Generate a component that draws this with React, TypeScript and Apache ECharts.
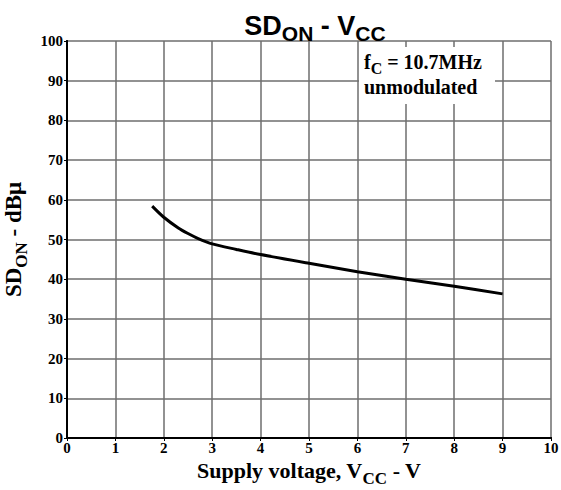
import React, { useEffect, useRef } from "react";
import * as echarts from "echarts";

const voltage = [1.76, 2.0, 2.3, 2.5, 2.7, 3.0, 3.5, 4.0, 5.0, 6.0, 7.0, 8.0, 9.0];
const sdOn = [58.4, 55.6, 52.9, 51.5, 50.3, 48.9, 47.5, 46.2, 44.0, 41.9, 40.0, 38.2, 36.3];

const xTicks = [0, 1, 2, 3, 4, 5, 6, 7, 8, 9, 10];
const yTicks = [0, 10, 20, 30, 40, 50, 60, 70, 80, 90, 100];

export default function App() {
  const ref = useRef<HTMLDivElement>(null);
  useEffect(() => {
    if (!ref.current) return;
    const chart = echarts.init(ref.current, null, { renderer: "svg" });
    const serif = "'Liberation Serif', 'Times New Roman', serif";
    const sans = "'Liberation Sans', Arial, sans-serif";
    const border = { show: true, lineStyle: { color: "#000", width: 2 } };
    chart.setOption({
      animation: false,
      backgroundColor: "#ffffff",
      title: {
        text: "{a|SD}{b|ON}{a| - V}{b|CC}",
        left: 310,
        textAlign: "center",
        top: 0,
        textStyle: {
          rich: {
            a: { fontFamily: sans, fontSize: 27, fontWeight: "bold", color: "#000", lineHeight: 34, verticalAlign: "bottom" },
            b: { fontFamily: sans, fontSize: 21, fontWeight: "bold", color: "#000", lineHeight: 34, verticalAlign: "bottom", padding: [0, 0, -5, 0] },
          },
        },
      },
      grid: { left: 67, right: 10, top: 41, bottom: 52, containLabel: false, outerBoundsMode: "none" },
      xAxis: [
        {
          type: "value",
          min: 0,
          max: 10,
          interval: 1,
          name: "{a|Supply voltage, V}{b|CC}{a| - V}",
          nameLocation: "middle",
          nameGap: 17,
          nameTextStyle: {
            rich: {
              a: { fontFamily: serif, fontSize: 22, fontWeight: "bold", color: "#000", lineHeight: 26, verticalAlign: "bottom" },
              b: { fontFamily: serif, fontSize: 17, fontWeight: "bold", color: "#000", lineHeight: 26, verticalAlign: "bottom", padding: [0, 0, -5, 0] },
            },
          },
          axisLine: border,
          axisTick: { show: true, inside: false, length: 3, lineStyle: { color: "#000", width: 1 } },
          axisLabel: {
            fontFamily: serif,
            fontWeight: "bold",
            fontSize: 15,
            color: "#000",
            margin: 2,
            formatter: (v: number) => (xTicks.includes(v) ? String(v) : ""),
          },
          splitLine: { show: true, lineStyle: { color: "#6e6e6e", width: 1.5 } },
        },
        {
          type: "value",
          position: "top",
          min: 0,
          max: 10,
          interval: 1,
          axisLine: border,
          axisTick: { show: false },
          axisLabel: { show: false },
          splitLine: { show: false },
        },
      ],
      yAxis: [
        {
          type: "value",
          min: 0,
          max: 100,
          interval: 10,
          name: "{a|SD}{b|ON}{a| - dBμ}",
          nameLocation: "middle",
          nameGap: 37,
          nameRotate: 90,
          nameTextStyle: {
            rich: {
              a: { fontFamily: serif, fontSize: 23, fontWeight: "bold", color: "#000", lineHeight: 26, verticalAlign: "bottom" },
              b: { fontFamily: serif, fontSize: 17, fontWeight: "bold", color: "#000", lineHeight: 26, verticalAlign: "bottom", padding: [0, 0, -5, 0] },
            },
          },
          axisLine: border,
          axisTick: { show: true, inside: false, length: 3, lineStyle: { color: "#000", width: 1 } },
          axisLabel: {
            fontFamily: serif,
            fontWeight: "bold",
            fontSize: 15,
            color: "#000",
            margin: 4,
            formatter: (v: number) => (yTicks.includes(v) ? String(v) : ""),
          },
          splitLine: { show: true, lineStyle: { color: "#6e6e6e", width: 1.5 } },
        },
        {
          type: "value",
          position: "right",
          min: 0,
          max: 100,
          interval: 10,
          axisLine: border,
          axisTick: { show: false },
          axisLabel: { show: false },
          splitLine: { show: false },
        },
      ],
      graphic: [
        {
          type: "rect",
          left: 359,
          top: 47,
          z: 10,
          shape: { width: 136, height: 57 },
          style: { fill: "#ffffff", stroke: "none" },
        },
        {
          type: "text",
          left: 364,
          top: 52,
          z: 11,
          style: {
            text: "{a|f}{b|C}{a| = 10.7MHz}\n{a|unmodulated}",
            rich: {
              a: { fontFamily: serif, fontSize: 20, fontWeight: "bold", fill: "#000", lineHeight: 25, verticalAlign: "bottom" },
              b: { fontFamily: serif, fontSize: 16, fontWeight: "bold", fill: "#000", lineHeight: 25, verticalAlign: "bottom", padding: [0, 0, -4, 0] },
            },
          },
        },
      ],
      series: [
        {
          type: "line",
          data: voltage.map((v, i) => [v, sdOn[i]]),
          smooth: 0.3,
          showSymbol: false,
          lineStyle: { color: "#000", width: 3 },
          z: 5,
        },
      ],
    });
    return () => chart.dispose();
  }, []);
  return <div ref={ref} style={{ position: "fixed", left: 0, top: 0, width: 561, height: 490 }} />;
}
